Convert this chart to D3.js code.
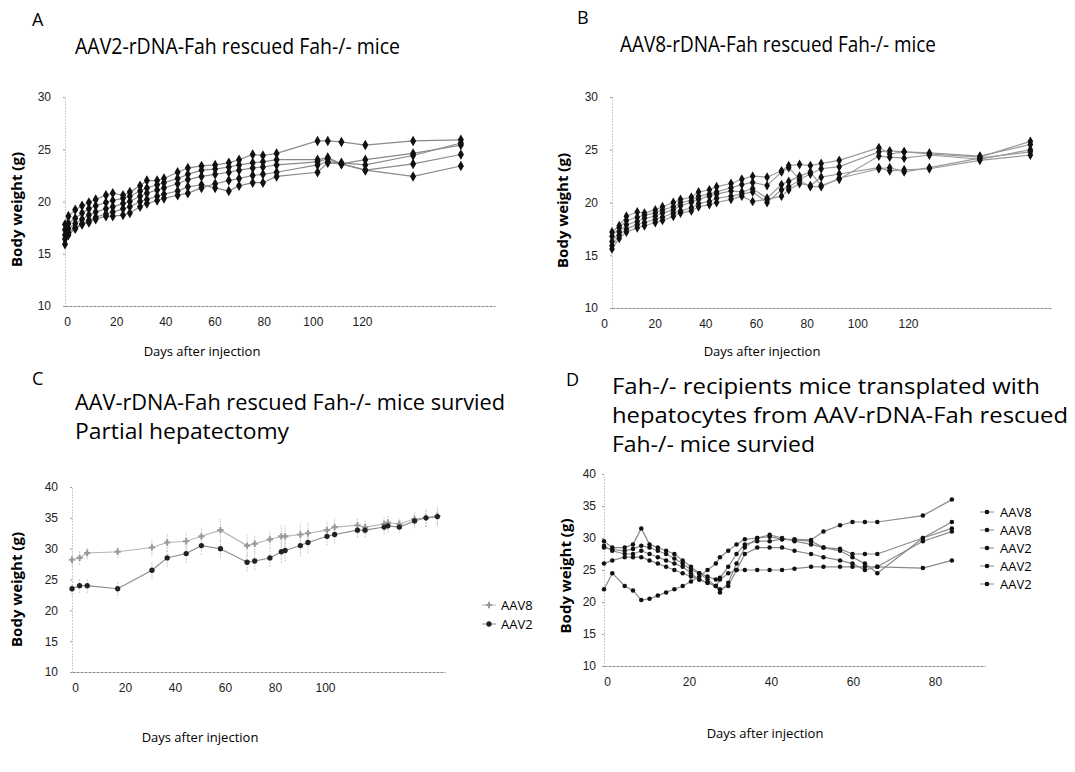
<!DOCTYPE html>
<html>
<head>
<meta charset="utf-8">
<script src="https://cdn.jsdelivr.net/npm/d3@7"></script>
<style>
  body { margin: 0; background: #fff; }
  svg { font-family: "Open Sans", "Noto Sans", sans-serif; }
</style>
</head>
<body>
<div id="chart"></div>
<script>
// ---------------------------------------------------------------------------
// Data
// ---------------------------------------------------------------------------

// Panel A - AAV2 rescued mice, body weight per mouse
const daysA = [0,1,3,5,7,9,12,14,17,19,22,24,27,29,33,36,40,44,48,51,55,58,62,74,77,81,88,102,116];
const weightsA = [
  [17.8,18.6,19.2,19.6,19.9,20.2,20.6,20.8,20.6,20.9,21.5,22,22,22.2,22.8,23.2,23.4,23.5,23.7,24,24.5,24.4,24.6,25.8,25.8,25.7,25.4,25.8,25.9],
  [17.3,17.9,18.4,18.9,19.3,19.6,19.9,20.1,20.3,20.5,21,21.3,21.6,21.8,22.2,22.6,23,23.1,23.3,23.5,23.7,23.8,24,24,24.2,23.6,24,24.6,25.4],
  [16.8,17.4,17.9,18.3,18.7,19,19.3,19.5,19.8,20,20.5,20.8,21.1,21.3,21.7,22.1,22.4,22.6,22.8,23,23.2,23.3,23.5,23.8,24.1,23.6,23,23.6,24.5],
  [16.4,17,17.5,17.9,18.2,18.5,18.8,19,19.3,19.5,20,20.2,20.5,20.7,21,21.4,21.6,21.3,21,21.5,21.8,21.8,22.4,22.8,23.7,23.6,23,22.4,23.4],
  [15.9,16.8,17.4,17.8,18,18.3,18.6,18.6,18.7,18.9,19.5,19.8,20.1,20.3,20.6,20.8,21.3,21.7,22,22.2,22.5,22.6,22.8,23.5,23.8,23.7,23.5,24.4,25.6]
];

// Panel B - AAV8 rescued mice
const daysB = [0,2,4,7,9,12,14,17,19,22,24,27,29,33,36,39,43,47,49,52,55,58,63,74,77,81,88,102,116];
const weightsB = [
  [17.2,17.8,18.7,19.1,19,19.3,19.6,20,20.3,20.5,21,21.2,21.5,21.8,22.2,22.5,22.4,23,23.5,23.6,23.5,23.7,24,25.2,24.6,24.8,24.6,24.3,25.8],
  [16.8,17.6,18.3,18.6,18.8,19,19.3,19.6,20,20.2,20.6,20.8,21,21.4,21.7,21.9,21.6,22.9,23.3,22.2,22.7,23.2,23.4,24.8,24.9,24.8,24.7,24.4,25.5],
  [16.3,17.2,17.9,18.2,18.5,18.7,19,19.3,19.7,20,20.3,20.6,20.8,21.1,21,21.3,20.4,21.7,22,22.5,22.9,21.6,22.2,24.4,24.3,24.2,24.5,24.1,25],
  [15.9,16.9,17.5,17.9,18.1,18.4,18.6,19,19.2,19.5,19.9,20.1,20.4,20.6,20.8,21,20,21.2,21.5,22.1,21.5,21.5,22.3,23.2,23.3,22.9,23.3,24.2,24.8],
  [15.6,16.6,17.2,17.6,17.8,18.1,18.3,18.7,19,19.2,19.6,19.8,20,20.3,20.6,20.1,20.3,20.6,21.2,21.8,21.6,22.4,22.7,23.3,23,23.1,23.2,24,24.5]
];

// Panel C - partial hepatectomy, group means with SD
const daysC = [0,2,4,12,21,25,30,34,39,46,48,52,55,56,60,62,67,69,75,77,82,83,86,90,93,96];
const meanC_AAV8 = [28.2,28.5,29.3,29.5,30.2,31,31.2,32,33,30.5,30.8,31.5,32,32,32.3,32.5,33,33.5,33.8,33.5,34,34.2,34,34.8,35,35.3];
const meanC_AAV2 = [23.5,24,24,23.5,26.5,28.5,29.2,30.5,30,27.8,28,28.5,29.5,29.7,30.5,31,32,32.3,33,33,33.5,33.7,33.5,34.5,35,35.2];
const sdC_AAV8 = [1,1.2,1,1,1.5,1.5,1.5,1.5,1.8,1.8,1.5,1.5,1.8,1.8,1.8,1.8,1.5,1.5,1.2,1.2,1.2,1.2,1,1.2,1.5,1.5];
const sdC_AAV2 = [1,1.2,1.2,1.2,1.5,1.5,1.5,1.5,1.5,1.5,1.5,1.5,1.8,1.8,1.8,1.8,1.5,1.5,1.2,1.2,1.2,1.2,1,1.2,1.5,1.5];
const legendC = ["AAV8", "AAV2"];

// Panel D - transplanted recipients
const daysD = [0,2,5,7,9,11,13,15,17,19,21,23,25,27,28,30,32,34,37,40,43,46,50,53,57,60,63,66,77,84];
const weightsD = [
  [28.5,28.2,28,28.3,28.8,28.5,28,27.5,26.8,26,25,24.5,24,23.5,23.8,25.5,27.5,29,29.5,29.5,29.8,29.8,29.7,31,32,32.5,32.5,32.5,33.5,36],
  [26,26.5,27,27,27,26.5,26,25.5,25,24.5,24,23.5,23,22.5,23.5,24.5,25,25,25,25,25,25.2,25.5,25.5,25.5,25.5,25.5,25.5,25.3,26.5],
  [22,24.5,22.5,21.8,20.3,20.5,21,21.5,22,22.5,23.2,24,25,26,27,28,29,29.8,30,30.2,29.8,29.7,29.5,28.5,28.3,27.5,27.5,27.5,30,31.5],
  [29.5,28.5,28.5,29,31.5,29,28.5,28,27.5,26.5,25.5,24.5,23.5,22.5,21.5,23,26,28.5,30,30.5,30,29.5,29,28.5,28,27,26,24.5,30,32.5],
  [28.8,28,27.5,27.5,28,27.5,27,26.5,26,25.5,24.5,23.5,23,22.5,22,22.5,25,27.5,28.5,28.5,28.5,28,27.5,27,26.5,26,25,25.5,29.5,31]
];
const legendD = ["AAV8", "AAV8", "AAV2", "AAV2", "AAV2"];

// Tick labels
const yTicksAB = [10, 15, 20, 25, 30];
const yTicksCD = [10, 15, 20, 25, 30, 35, 40];
const xLabelsAB = ["0", "20", "40", "60", "80", "100", "120"];
const xLabelsC = ["0", "20", "40", "60", "80", "100"];
const xLabelsD = ["0", "20", "40", "60", "80"];

// ---------------------------------------------------------------------------
// Drawing
// ---------------------------------------------------------------------------
const width = 1075, height = 772;
const svg = d3.select("#chart").append("svg")
  .attr("width", width)
  .attr("height", height);

function drawFrame(p) {
  const g = svg.append("g");

  const x = d3.scaleLinear().domain([0, p.xMax]).range([p.left, p.right]);
  const y = d3.scaleLinear().domain([10, p.yMax]).range([p.bottom, p.top]);
  const xLab = d3.scalePoint().domain(p.xLabels).range(p.labRange);

  // panel letter + title (widths fitted to the figure)
  g.append("text").attr("x", p.letterX).attr("y", p.letterY)
    .style("font-size", "18px").text(p.letter);
  p.title.forEach((t, i) => {
    g.append("text").attr("x", p.titleX).attr("y", p.titleY + i * 29)
      .attr("textLength", p.titleW[i]).attr("lengthAdjust", "spacingAndGlyphs")
      .style("font-size", p.titleSize + "px").text(t);
  });

  // y axis
  const ya = g.append("g").attr("transform", `translate(${p.left},0)`)
    .call(d3.axisLeft(y).tickValues(p.yTicks).tickSize(2).tickSizeOuter(0).tickPadding(p.tickPad));
  ya.select(".domain").attr("stroke", "#999").attr("stroke-dasharray", "1,2");
  ya.selectAll(".tick line").attr("stroke", "#999");
  ya.selectAll(".tick text").style("font-size", "12px").attr("fill", "#222");

  // x axis line
  const xa = g.append("g").attr("transform", `translate(0,${p.bottom})`)
    .call(d3.axisBottom(x).tickValues([]).tickSizeOuter(0));
  xa.select(".domain").attr("stroke", "#888").attr("stroke-dasharray", "3,1");

  // x tick labels (placed as in the figure, not under the data)
  const xl = g.append("g").attr("transform", `translate(0,${p.bottom + 8})`)
    .call(d3.axisBottom(xLab).tickSize(0));
  xl.select(".domain").remove();
  xl.selectAll(".tick text").style("font-size", "12px").attr("fill", "#222");

  // axis titles
  g.append("text")
    .attr("transform", `translate(${p.yLabelX},${(p.top + p.bottom) / 2 + p.yLabelDy}) rotate(-90)`)
    .attr("text-anchor", "middle")
    .style("font-size", "15px").style("font-weight", "bold")
    .text("Body weight (g)");
  g.append("text")
    .attr("x", p.xTitleX).attr("y", p.xTitleY)
    .attr("text-anchor", "middle")
    .style("font-size", "13px")
    .text("Days after injection");

  return { g, x, y };
}

function drawSeries(frame, days, series, symbol, size, lineColor) {
  const { g, x, y } = frame;
  const line = d3.line().x((d, i) => x(days[i])).y(d => y(d));
  series.forEach(vals => {
    g.append("path").datum(vals)
      .attr("d", line)
      .attr("fill", "none")
      .attr("stroke", lineColor)
      .attr("stroke-width", 1.2);
  });
  series.forEach(vals => {
    g.selectAll(null).data(vals).enter().append("path")
      .attr("d", d3.symbol(symbol, size))
      .attr("transform", (d, i) => `translate(${x(days[i])},${y(d)})`)
      .attr("fill", "#111");
  });
}

// --- A ---
const fA = drawFrame({
  letter: "A", letterX: 32, letterY: 26,
  title: ["AAV2-rDNA-Fah rescued Fah-/- mice"], titleX: 75, titleY: 54, titleW: [325], titleSize: 21,
  left: 65, right: 495, top: 97, bottom: 306, xMax: 126, yMax: 30,
  yTicks: yTicksAB, xLabels: xLabelsAB, labRange: [67, 362], tickPad: 12,
  yLabelX: 22, yLabelDy: 8, xTitleX: 202, xTitleY: 356
});
drawSeries(fA, daysA, weightsA, d3.symbolDiamond, 32, "#8a8a8a");

// --- B ---
const fB = drawFrame({
  letter: "B", letterX: 577, letterY: 24,
  title: ["AAV8-rDNA-Fah rescued Fah-/- mice"], titleX: 620, titleY: 52, titleW: [316], titleSize: 21,
  left: 612, right: 1052, top: 97, bottom: 308, xMax: 122, yMax: 30,
  yTicks: yTicksAB, xLabels: xLabelsAB, labRange: [604, 908], tickPad: 12,
  yLabelX: 568, yLabelDy: 8, xTitleX: 762, xTitleY: 356
});
drawSeries(fB, daysB, weightsB, d3.symbolDiamond, 28, "#9a9a9a");

// --- C ---
const fC = drawFrame({
  letter: "C", letterX: 32, letterY: 385,
  title: ["AAV-rDNA-Fah rescued Fah-/- mice survied", "Partial hepatectomy"], titleX: 75, titleY: 410,
  titleW: [430, 214], titleSize: 22,
  left: 72, right: 445, top: 487, bottom: 672, xMax: 98, yMax: 40,
  yTicks: yTicksCD, xLabels: xLabelsC, labRange: [75, 325], tickPad: 12,
  yLabelX: 22, yLabelDy: 10, xTitleX: 200, xTitleY: 742
});
{
  const { g, x, y } = fC;
  const groups = [
    { mean: meanC_AAV8, sd: sdC_AAV8, line: "#b5b5b5", mark: "#9a9a9a", sym: d3.symbolCross },
    { mean: meanC_AAV2, sd: sdC_AAV2, line: "#8a8a8a", mark: "#222", sym: d3.symbolCircle }
  ];
  groups.forEach(s => {
    g.selectAll(null).data(s.mean).enter().append("line")
      .attr("x1", (d, i) => x(daysC[i])).attr("x2", (d, i) => x(daysC[i]))
      .attr("y1", (d, i) => y(d - s.sd[i])).attr("y2", (d, i) => y(d + s.sd[i]))
      .attr("stroke", "#c8c8c8").attr("stroke-width", 1).attr("stroke-dasharray", "2,1");
  });
  groups.forEach(s => {
    const line = d3.line().x((d, i) => x(daysC[i])).y(d => y(d));
    g.append("path").datum(s.mean).attr("d", line)
      .attr("fill", "none").attr("stroke", s.line).attr("stroke-width", 1.1);
    g.selectAll(null).data(s.mean).enter().append("path")
      .attr("d", d3.symbol(s.sym, 22))
      .attr("transform", (d, i) => `translate(${x(daysC[i])},${y(d)})`)
      .attr("fill", s.mark);
  });
  // legend
  const lg = g.append("g").attr("transform", "translate(482,605)");
  legendC.forEach((name, i) => {
    const row = lg.append("g").attr("transform", `translate(0,${i * 19})`);
    row.append("line").attr("x1", 0).attr("x2", 14).attr("stroke", groups[i].line);
    row.append("path").attr("d", d3.symbol(groups[i].sym, 22))
      .attr("transform", "translate(7,0)").attr("fill", groups[i].mark);
    row.append("text").attr("x", 19).attr("dy", "0.35em")
      .style("font-size", "13px").text(name);
  });
}

// --- D ---
const fD = drawFrame({
  letter: "D", letterX: 566, letterY: 386,
  title: ["Fah-/- recipients mice transplated with", "hepatocytes from AAV-rDNA-Fah rescued", "Fah-/- mice survied"],
  titleX: 612, titleY: 394, titleW: [428, 456, 203], titleSize: 22,
  left: 604, right: 985, top: 474, bottom: 666, xMax: 92, yMax: 40,
  yTicks: yTicksCD, xLabels: xLabelsD, labRange: [607, 935], tickPad: 6,
  yLabelX: 571, yLabelDy: 6, xTitleX: 765, xTitleY: 738
});
drawSeries(fD, daysD, weightsD, d3.symbolCircle, 16, "#8a8a8a");
{
  const lg = fD.g.append("g").attr("transform", "translate(980,512)");
  legendD.forEach((name, i) => {
    const row = lg.append("g").attr("transform", `translate(0,${i * 18})`);
    row.append("line").attr("x1", 0).attr("x2", 14).attr("stroke", "#8a8a8a");
    row.append("circle").attr("cx", 7).attr("r", 2.3).attr("fill", "#111");
    row.append("text").attr("x", 20).attr("dy", "0.35em")
      .style("font-size", "13px").text(name);
  });
}
</script>
</body>
</html>
